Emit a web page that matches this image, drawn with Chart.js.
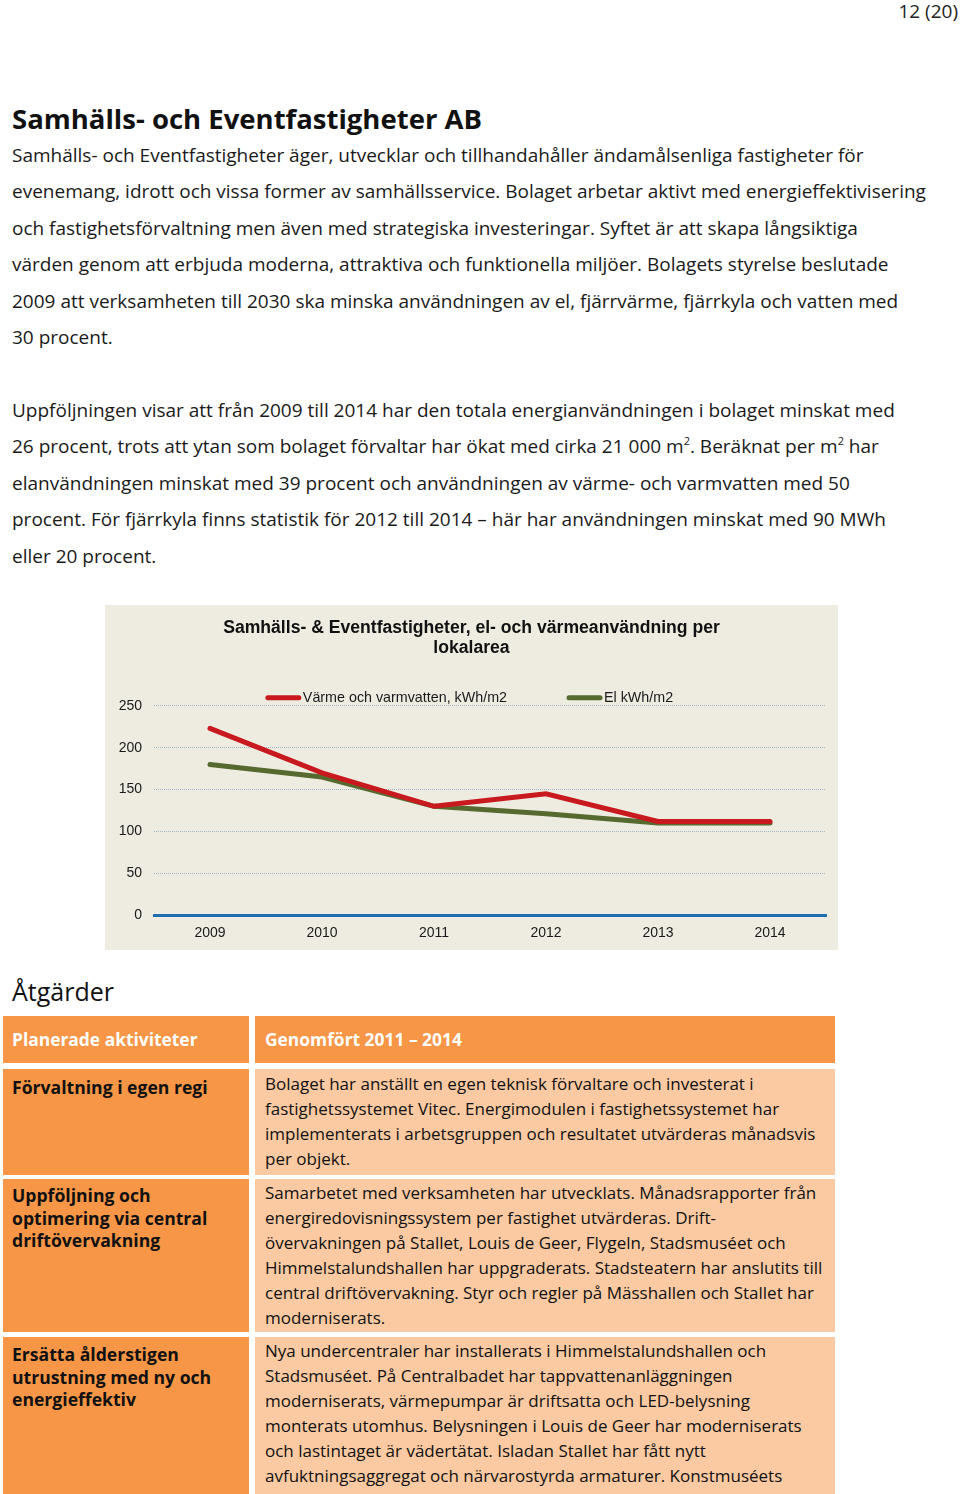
<!DOCTYPE html>
<html lang="sv">
<head>
<meta charset="utf-8">
<title>Samhälls- och Eventfastigheter AB</title>
<script src="https://cdn.jsdelivr.net/npm/chart.js@4.4.0/dist/chart.umd.min.js"></script>
<style>
  html, body { margin: 0; padding: 0; background: #fff; }
  body { width: 960px; height: 1494px; position: relative; overflow: hidden; font-family: "Open Sans", "Noto Sans", sans-serif; color: #111; }
  .abs { position: absolute; white-space: nowrap; }
  .pageno { right: 2px; top: 0px; font-size: 19px; line-height: 22px; color: #222; }
  .h1 { left: 12px; top: 100px; font-size: 27.5px; font-weight: 700; }
  .para { left: 12px; font-size: 19px; line-height: 36.4px; color: #1a1a1a; }
  .para sup { font-size: 11px; line-height: 0; vertical-align: 8px; }
  .h2 { left: 12px; top: 974px; font-size: 25px; font-weight: 400; }
  #chartBox { left: 105px; top: 605px; width: 733px; height: 345px; background: #eeebe1; }
  .cell { position: absolute; overflow: hidden; box-sizing: border-box; white-space: nowrap; }
  .head { background: #f79646; color: #fff; font-weight: 700; font-size: 17.4px; line-height: 47px; }
  .left { background: #f79646; font-weight: 700; font-size: 17.6px; line-height: 22.5px; padding-left: 9px; }
  .right { background: #fbcaa2; font-size: 17px; line-height: 25px; padding-left: 10px; }
</style>
</head>
<body>

<div class="abs pageno">12 (20)</div>
<div class="abs h1">Samhälls- och Eventfastigheter AB</div>

<div class="abs para" style="top:137px">Samhälls- och Eventfastigheter äger, utvecklar och tillhandahåller ändamålsenliga fastigheter för<br>evenemang, idrott och vissa former av samhällsservice. Bolaget arbetar aktivt med energieffektivisering<br>och fastighetsförvaltning men även med strategiska investeringar. Syftet är att skapa långsiktiga<br>värden genom att erbjuda moderna, attraktiva och funktionella miljöer. Bolagets styrelse beslutade<br>2009 att verksamheten till 2030 ska minska användningen av el, fjärrvärme, fjärrkyla och vatten med<br>30 procent.</div>

<div class="abs para" style="top:392px">Uppföljningen visar att från 2009 till 2014 har den totala energianvändningen i bolaget minskat med<br>26 procent, trots att ytan som bolaget förvaltar har ökat med cirka 21 000 m<sup>2</sup>. Beräknat per m<sup>2</sup> har<br>elanvändningen minskat med 39 procent och användningen av värme- och varmvatten med 50<br>procent. För fjärrkyla finns statistik för 2012 till 2014 – här har användningen minskat med 90 MWh<br>eller 20 procent.</div>

<div id="chartBox" class="abs"><canvas id="myChart"></canvas></div>

<div class="abs h2">Åtgärder</div>

<div class="cell head" style="left:3px;top:1016px;width:246px;height:47px;padding-left:9px">Planerade aktiviteter</div>
<div class="cell head" style="left:255px;top:1016px;width:580px;height:47px;padding-left:10px">Genomfört 2011 – 2014</div>

<div class="cell left" style="left:3px;top:1069px;width:246px;height:106px;padding-top:7px">Förvaltning i egen regi</div>
<div class="cell right" style="left:255px;top:1069px;width:580px;height:106px;padding-top:2px">Bolaget har anställt en egen teknisk förvaltare och investerat i<br>fastighetssystemet Vitec. Energimodulen i fastighetssystemet har<br>implementerats i arbetsgruppen och resultatet utvärderas månadsvis<br>per objekt.</div>

<div class="cell left" style="left:3px;top:1179px;width:246px;height:153px;padding-top:5px">Uppföljning och<br>optimering via central<br>driftövervakning</div>
<div class="cell right" style="left:255px;top:1179px;width:580px;height:153px;padding-top:1px">Samarbetet med verksamheten har utvecklats. Månadsrapporter från<br>energiredovisningssystem per fastighet utvärderas. Drift-<br>övervakningen på Stallet, Louis de Geer, Flygeln, Stadsmuséet och<br>Himmelstalundshallen har uppgraderats. Stadsteatern har anslutits till<br>central driftövervakning. Styr och regler på Mässhallen och Stallet har<br>moderniserats.</div>

<div class="cell left" style="left:3px;top:1337px;width:246px;height:160px;padding-top:6px">Ersätta ålderstigen<br>utrustning med ny och<br>energieffektiv</div>
<div class="cell right" style="left:255px;top:1337px;width:580px;height:160px;padding-top:1px">Nya undercentraler har installerats i Himmelstalundshallen och<br>Stadsmuséet. På Centralbadet har tappvattenanläggningen<br>moderniserats, värmepumpar är driftsatta och LED-belysning<br>monterats utomhus. Belysningen i Louis de Geer har moderniserats<br>och lastintaget är vädertätat. Isladan Stallet har fått nytt<br>avfuktningsaggregat och närvarostyrda armaturer. Konstmuséets</div>

<script>
// data
const years = ['2009', '2010', '2011', '2012', '2013', '2014'];
const varme = [223, 170, 130, 145, 112, 112];
const el = [180, 165, 130, 121, 110, 110];
const yMax = 250;
const yStep = 50;
const chartTitle = ['Samhälls- & Eventfastigheter, el- och värmeanvändning per', 'lokalarea'];

Chart.defaults.font.family = '"Liberation Sans", Arial, sans-serif';
Chart.defaults.color = '#1a1a1a';

// legend drawn as short thick lines like the original
const lineLegend = {
    id: 'lineLegend',
    afterDraw(chart) {
        const ctx = chart.ctx;
        const y = chart.chartArea.top - 8;
        ctx.save();
        ctx.font = '14.3px "Liberation Sans", Arial, sans-serif';
        const items = chart.data.datasets.map(ds => ({
            label: ds.label,
            color: ds.borderColor,
            w: ctx.measureText(ds.label).width
        }));
        const lineLen = 35, gap = 2, itemGap = 60;
        let total = itemGap * (items.length - 1);
        items.forEach(it => total += lineLen + gap + it.w);
        let x = chart.width / 2 - 2 - total / 2;
        items.forEach(it => {
            ctx.strokeStyle = it.color;
            ctx.lineWidth = 5;
            ctx.lineCap = 'round';
            ctx.beginPath();
            ctx.moveTo(x + 2, y);
            ctx.lineTo(x + lineLen - 2, y);
            ctx.stroke();
            ctx.fillStyle = '#1a1a1a';
            ctx.textBaseline = 'middle';
            ctx.fillText(it.label, x + lineLen + gap, y);
            x += lineLen + gap + it.w + itemGap;
        });
        ctx.restore();
    }
};

const data = {
    labels: years,
    datasets: [{
        label: 'Värme och varmvatten, kWh/m2',
        data: varme,
        borderColor: '#c81a1e',
        backgroundColor: '#c81a1e',
        borderWidth: 5,
        borderCapStyle: 'round',
        pointRadius: 0,
        tension: 0
    }, {
        label: 'El kWh/m2',
        data: el,
        borderColor: '#56692e',
        backgroundColor: '#56692e',
        borderWidth: 5,
        borderCapStyle: 'round',
        pointRadius: 0,
        tension: 0
    }]
};

const config = {
    type: 'line',
    data: data,
    plugins: [lineLegend],
    options: {
        responsive: true,
        maintainAspectRatio: false,
        animation: false,
        layout: { padding: { left: 12, right: 12, top: 0, bottom: 0 } },
        plugins: {
            legend: { display: false },
            tooltip: { enabled: false },
            title: {
                display: true,
                text: chartTitle,
                color: '#111',
                font: { size: 17.6, weight: 'bold', lineHeight: 1.16 },
                padding: { top: 13, bottom: 47 }
            }
        },
        scales: {
            x: {
                offset: true,
                afterFit: (scale) => { scale.height = scale.height - 2; },
                grid: { display: false, drawTicks: false },
                border: { display: true, color: '#1f6db3', width: 3 },
                ticks: { padding: 10, font: { size: 14 }, color: '#1a1a1a' }
            },
            y: {
                min: 0,
                max: yMax,
                afterFit: (scale) => { scale.width = 37; },
                grid: { color: '#9db6c6', lineWidth: 1, drawTicks: false },
                border: { display: false, dash: [1, 1] },
                ticks: { stepSize: yStep, padding: 12, font: { size: 14 }, color: '#1a1a1a' }
            }
        }
    }
};

const myChart = new Chart(document.getElementById('myChart'), config);
</script>
</body>
</html>
